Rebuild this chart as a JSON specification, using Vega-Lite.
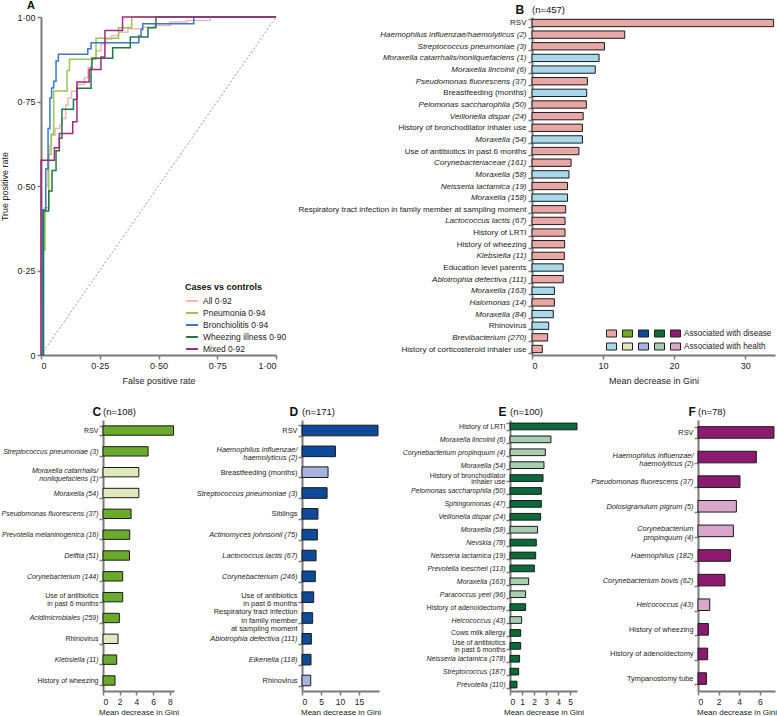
{
  "$schema": "https://vega.github.io/schema/vega-lite/v6.json",
  "padding": 0,
  "config": {
    "font": "Liberation Sans",
    "view": {"stroke": null},
    "axis": {"domainColor": "#7a7a7a", "domainWidth": 2, "tickColor": "#7a7a7a", "tickWidth": 1.5, "tickSize": 4, "labelColor": "#222", "labelFontSize": 8.5, "titleColor": "#222", "titleFontWeight": "normal", "titleFontSize": 9, "grid": false, "labelPadding": 2},
    "title": {"fontSize": 9.5, "fontWeight": "normal", "anchor": "start", "offset": -11, "color": "#111", "frame": "group"},
    "legend": {"labelColor": "#222", "titleColor": "#111"}
  },
  "spacing": 20,
  "resolve": {"scale": {"color": "independent"}, "legend": {"color": "independent"}},
  "vconcat": [
    {
      "spacing": 256,
      "bounds": "flush",
      "resolve": {"scale": {"color": "independent"}, "legend": {"color": "independent"}},
      "hconcat": [
        {
          "width": 235,
          "height": 338,
          "title": {"text": "A", "dx": -14, "offset": 2, "fontSize": 11, "fontWeight": "bold"},
          "layer": [
            {
              "data": {"values": [{"fpr": 0, "tpr": 0}, {"fpr": 1, "tpr": 1}]},
              "mark": {"type": "line", "strokeDash": [2, 2], "color": "#8a9bab", "strokeWidth": 1},
              "encoding": {
                "x": {"field": "fpr", "type": "quantitative", "scale": {"domain": [0, 1], "nice": false}, "axis": {"values": [0, 0.25, 0.5, 0.75, 1], "labelFontSize": 9, "labelExpr": "datum.value == 0 ? '0' : replace(format(datum.value, '.2f'), '.', '·')", "title": "False positive rate", "titlePadding": 6}},
                "y": {"field": "tpr", "type": "quantitative", "scale": {"domain": [0, 1], "nice": false}, "axis": {"values": [0, 0.25, 0.5, 0.75, 1], "labelFontSize": 9, "labelExpr": "datum.value == 0 ? '0' : replace(format(datum.value, '.2f'), '.', '·')", "title": "True positive rate", "titlePadding": 7}}
              }
            },
            {
              "data": {"values": [
                {"series": "All 0·92", "k": 0, "fpr": 0, "tpr": 0},
                {"series": "All 0·92", "k": 1, "fpr": 0.005, "tpr": 0.15},
                {"series": "All 0·92", "k": 2, "fpr": 0.008, "tpr": 0.35},
                {"series": "All 0·92", "k": 3, "fpr": 0.012, "tpr": 0.42},
                {"series": "All 0·92", "k": 4, "fpr": 0.02, "tpr": 0.5},
                {"series": "All 0·92", "k": 5, "fpr": 0.028, "tpr": 0.58},
                {"series": "All 0·92", "k": 6, "fpr": 0.035, "tpr": 0.62},
                {"series": "All 0·92", "k": 7, "fpr": 0.045, "tpr": 0.65},
                {"series": "All 0·92", "k": 8, "fpr": 0.06, "tpr": 0.67},
                {"series": "All 0·92", "k": 9, "fpr": 0.08, "tpr": 0.68},
                {"series": "All 0·92", "k": 10, "fpr": 0.09, "tpr": 0.7},
                {"series": "All 0·92", "k": 11, "fpr": 0.105, "tpr": 0.74},
                {"series": "All 0·92", "k": 12, "fpr": 0.115, "tpr": 0.76},
                {"series": "All 0·92", "k": 13, "fpr": 0.13, "tpr": 0.78},
                {"series": "All 0·92", "k": 14, "fpr": 0.155, "tpr": 0.8},
                {"series": "All 0·92", "k": 15, "fpr": 0.185, "tpr": 0.82},
                {"series": "All 0·92", "k": 16, "fpr": 0.2, "tpr": 0.85},
                {"series": "All 0·92", "k": 17, "fpr": 0.215, "tpr": 0.88},
                {"series": "All 0·92", "k": 18, "fpr": 0.235, "tpr": 0.9},
                {"series": "All 0·92", "k": 19, "fpr": 0.255, "tpr": 0.92},
                {"series": "All 0·92", "k": 20, "fpr": 0.275, "tpr": 0.935},
                {"series": "All 0·92", "k": 21, "fpr": 0.3, "tpr": 0.945},
                {"series": "All 0·92", "k": 22, "fpr": 0.33, "tpr": 0.955},
                {"series": "All 0·92", "k": 23, "fpr": 0.37, "tpr": 0.965},
                {"series": "All 0·92", "k": 24, "fpr": 0.43, "tpr": 0.97},
                {"series": "All 0·92", "k": 25, "fpr": 0.48, "tpr": 0.975},
                {"series": "All 0·92", "k": 26, "fpr": 0.55, "tpr": 0.985},
                {"series": "All 0·92", "k": 27, "fpr": 0.62, "tpr": 0.99},
                {"series": "All 0·92", "k": 28, "fpr": 0.72, "tpr": 1},
                {"series": "All 0·92", "k": 29, "fpr": 1, "tpr": 1},
                {"series": "Pneumonia 0·94", "k": 0, "fpr": 0, "tpr": 0},
                {"series": "Pneumonia 0·94", "k": 1, "fpr": 0.007, "tpr": 0.31},
                {"series": "Pneumonia 0·94", "k": 2, "fpr": 0.017, "tpr": 0.436},
                {"series": "Pneumonia 0·94", "k": 3, "fpr": 0.033, "tpr": 0.594},
                {"series": "Pneumonia 0·94", "k": 4, "fpr": 0.043, "tpr": 0.653},
                {"series": "Pneumonia 0·94", "k": 5, "fpr": 0.054, "tpr": 0.781},
                {"series": "Pneumonia 0·94", "k": 6, "fpr": 0.111, "tpr": 0.842},
                {"series": "Pneumonia 0·94", "k": 7, "fpr": 0.121, "tpr": 0.875},
                {"series": "Pneumonia 0·94", "k": 8, "fpr": 0.234, "tpr": 0.937},
                {"series": "Pneumonia 0·94", "k": 9, "fpr": 0.33, "tpr": 0.968},
                {"series": "Pneumonia 0·94", "k": 10, "fpr": 0.386, "tpr": 1},
                {"series": "Pneumonia 0·94", "k": 11, "fpr": 1, "tpr": 1},
                {"series": "Bronchiolitis 0·94", "k": 0, "fpr": 0, "tpr": 0},
                {"series": "Bronchiolitis 0·94", "k": 1, "fpr": 0.007, "tpr": 0.43},
                {"series": "Bronchiolitis 0·94", "k": 2, "fpr": 0.02, "tpr": 0.55},
                {"series": "Bronchiolitis 0·94", "k": 3, "fpr": 0.03, "tpr": 0.67},
                {"series": "Bronchiolitis 0·94", "k": 4, "fpr": 0.038, "tpr": 0.76},
                {"series": "Bronchiolitis 0·94", "k": 5, "fpr": 0.045, "tpr": 0.79},
                {"series": "Bronchiolitis 0·94", "k": 6, "fpr": 0.054, "tpr": 0.81},
                {"series": "Bronchiolitis 0·94", "k": 7, "fpr": 0.064, "tpr": 0.87},
                {"series": "Bronchiolitis 0·94", "k": 8, "fpr": 0.074, "tpr": 0.89},
                {"series": "Bronchiolitis 0·94", "k": 9, "fpr": 0.199, "tpr": 0.906},
                {"series": "Bronchiolitis 0·94", "k": 10, "fpr": 0.213, "tpr": 0.924},
                {"series": "Bronchiolitis 0·94", "k": 11, "fpr": 0.416, "tpr": 0.944},
                {"series": "Bronchiolitis 0·94", "k": 12, "fpr": 0.426, "tpr": 0.963},
                {"series": "Bronchiolitis 0·94", "k": 13, "fpr": 0.433, "tpr": 0.98},
                {"series": "Bronchiolitis 0·94", "k": 14, "fpr": 0.65, "tpr": 1},
                {"series": "Bronchiolitis 0·94", "k": 15, "fpr": 1, "tpr": 1},
                {"series": "Wheezing illness 0·90", "k": 0, "fpr": 0, "tpr": 0},
                {"series": "Wheezing illness 0·90", "k": 1, "fpr": 0.011, "tpr": 0.426},
                {"series": "Wheezing illness 0·90", "k": 2, "fpr": 0.033, "tpr": 0.485},
                {"series": "Wheezing illness 0·90", "k": 3, "fpr": 0.047, "tpr": 0.546},
                {"series": "Wheezing illness 0·90", "k": 4, "fpr": 0.064, "tpr": 0.604},
                {"series": "Wheezing illness 0·90", "k": 5, "fpr": 0.078, "tpr": 0.641},
                {"series": "Wheezing illness 0·90", "k": 6, "fpr": 0.089, "tpr": 0.727},
                {"series": "Wheezing illness 0·90", "k": 7, "fpr": 0.138, "tpr": 0.756},
                {"series": "Wheezing illness 0·90", "k": 8, "fpr": 0.153, "tpr": 0.789},
                {"series": "Wheezing illness 0·90", "k": 9, "fpr": 0.213, "tpr": 0.85},
                {"series": "Wheezing illness 0·90", "k": 10, "fpr": 0.217, "tpr": 0.878},
                {"series": "Wheezing illness 0·90", "k": 11, "fpr": 0.305, "tpr": 0.909},
                {"series": "Wheezing illness 0·90", "k": 12, "fpr": 0.38, "tpr": 0.941},
                {"series": "Wheezing illness 0·90", "k": 13, "fpr": 0.455, "tpr": 0.968},
                {"series": "Wheezing illness 0·90", "k": 14, "fpr": 0.489, "tpr": 1},
                {"series": "Wheezing illness 0·90", "k": 15, "fpr": 1, "tpr": 1},
                {"series": "Mixed 0·92", "k": 0, "fpr": 0, "tpr": 0},
                {"series": "Mixed 0·92", "k": 1, "fpr": 0, "tpr": 0.576},
                {"series": "Mixed 0·92", "k": 2, "fpr": 0.057, "tpr": 0.613},
                {"series": "Mixed 0·92", "k": 3, "fpr": 0.078, "tpr": 0.655},
                {"series": "Mixed 0·92", "k": 4, "fpr": 0.135, "tpr": 0.69},
                {"series": "Mixed 0·92", "k": 5, "fpr": 0.153, "tpr": 0.808},
                {"series": "Mixed 0·92", "k": 6, "fpr": 0.205, "tpr": 0.845},
                {"series": "Mixed 0·92", "k": 7, "fpr": 0.255, "tpr": 0.882},
                {"series": "Mixed 0·92", "k": 8, "fpr": 0.272, "tpr": 0.96},
                {"series": "Mixed 0·92", "k": 9, "fpr": 0.347, "tpr": 1},
                {"series": "Mixed 0·92", "k": 10, "fpr": 1, "tpr": 1}
              ]},
              "mark": {"type": "line", "interpolate": "step-after", "strokeWidth": 1.5},
              "encoding": {
                "x": {"field": "fpr", "type": "quantitative"},
                "y": {"field": "tpr", "type": "quantitative"},
                "order": {"field": "k", "type": "quantitative"},
                "color": {"field": "series", "type": "nominal",
                  "scale": {"domain": ["All 0·92", "Pneumonia 0·94", "Bronchiolitis 0·94", "Wheezing illness 0·90", "Mixed 0·92"], "range": ["#f2b8b0", "#96c94e", "#3a78c8", "#1e7a45", "#a3287f"]},
                  "legend": {"title": "Cases vs controls", "orient": "none", "legendX": 144, "legendY": 266, "titleFontSize": 9, "titleFontWeight": "bold", "labelFontSize": 8.5, "symbolType": "stroke", "symbolStrokeWidth": 2, "symbolSize": 144, "rowPadding": -1.5, "labelOffset": 4, "padding": 0, "titlePadding": 2}}
              }
            }
          ]
        },
        {
          "width": 243,
          "height": 338,
          "title": {"text": "(n=457)"},
          "data": {"values": [
            {"label": "RSV", "value": 34.0, "assoc": "B-d"},
            {"label": "Haemophilus influenzae/haemolyticus (2)", "value": 13.05, "assoc": "B-d"},
            {"label": "Streptococcus pneumoniae (3)", "value": 10.2, "assoc": "B-d"},
            {"label": "Moraxella catarrhalis/nonliquefaciens (1)", "value": 9.44, "assoc": "B-h"},
            {"label": "Moraxella lincolnii (6)", "value": 8.9, "assoc": "B-h"},
            {"label": "Pseudomonas fluorescens (37)", "value": 7.8, "assoc": "B-d"},
            {"label": "Breastfeeding (months)", "value": 7.7, "assoc": "B-h"},
            {"label": "Pelomonas saccharophila (50)", "value": 7.65, "assoc": "B-d"},
            {"label": "Veillonella dispar (24)", "value": 7.2, "assoc": "B-d"},
            {"label": "History of bronchodilator inhaler use", "value": 7.1, "assoc": "B-d"},
            {"label": "Moraxella (54)", "value": 7.1, "assoc": "B-h"},
            {"label": "Use of antibiotics in past 6 months", "value": 6.6, "assoc": "B-d"},
            {"label": "Corynebacteriaceae (161)", "value": 5.5, "assoc": "B-d"},
            {"label": "Moraxella (58)", "value": 5.2, "assoc": "B-h"},
            {"label": "Neisseria lactamica (19)", "value": 5.0, "assoc": "B-d"},
            {"label": "Moraxella (158)", "value": 5.0, "assoc": "B-h"},
            {"label": "Respiratory tract infection in family member at sampling moment", "value": 4.74, "assoc": "B-d"},
            {"label": "Lactococcus lactis (67)", "value": 4.65, "assoc": "B-d"},
            {"label": "History of LRTI", "value": 4.65, "assoc": "B-d"},
            {"label": "History of wheezing", "value": 4.6, "assoc": "B-d"},
            {"label": "Klebsiella (11)", "value": 4.55, "assoc": "B-d"},
            {"label": "Education level parents", "value": 4.4, "assoc": "B-h"},
            {"label": "Abiotrophia defectiva (111)", "value": 4.4, "assoc": "B-d"},
            {"label": "Moraxella (163)", "value": 3.15, "assoc": "B-h"},
            {"label": "Halomonas (14)", "value": 3.15, "assoc": "B-d"},
            {"label": "Moraxella (84)", "value": 3.0, "assoc": "B-h"},
            {"label": "Rhinovirus", "value": 2.35, "assoc": "B-h"},
            {"label": "Brevibacterium (270)", "value": 2.2, "assoc": "B-d"},
            {"label": "History of corticosteroid inhaler use", "value": 1.45, "assoc": "B-d"}
          ]},
          "mark": {"type": "bar", "stroke": "#1a1a1a", "strokeWidth": 1},
          "encoding": {
            "y": {"field": "label", "type": "nominal", "sort": null, "scale": {"paddingInner": 0.37, "paddingOuter": 0.2},
              "axis": {"title": "B", "titleAngle": 0, "titleX": -17, "titleY": -4, "titleAlign": "left", "titleBaseline": "alphabetic", "titleFontSize": 12, "titleFontWeight": "bold", "titleColor": "#111", "tickBand": "extent", "labelFontSize": 8, "labelLimit": 400, "labelExpr": "split(datum.label, '|')", "labelFontStyle": {"condition": {"test": "test(/\\(\\d+\\)$/, datum.value)", "value": "italic"}, "value": "normal"}}},
            "x": {"field": "value", "type": "quantitative", "scale": {"domain": [0, 34.2], "nice": false},
              "axis": {"values": [0, 10, 20, 30], "title": "Mean decrease in Gini", "titleFontSize": 9, "labelFontSize": 9, "titlePadding": 6}},
            "color": {"field": "assoc", "type": "nominal",
              "scale": {"domain": ["B-d", "B-h", "C-d", "C-h", "D-d", "D-h", "E-d", "E-h", "F-d", "F-h"], "range": ["#e8a6a4", "#a7d8ec", "#6aab2b", "#dfe9bd", "#0d4b9a", "#a6b3dc", "#0b6a3a", "#a5cdb0", "#8c1a6e", "#d8a7cb"]},
              "legend": {"orient": "bottom-right", "columns": 5, "title": null, "labelExpr": "datum.value == 'F-d' ? 'Associated with disease' : datum.value == 'F-h' ? 'Associated with health' : ''", "symbolType": "M-1,-0.7L1,-0.7L1,0.7L-1,0.7Z", "symbolSize": 100, "symbolStrokeColor": "#222", "symbolStrokeWidth": 1, "labelFontSize": 8.2, "columnPadding": 0, "rowPadding": 2, "labelOffset": 3, "offset": 3, "padding": 0}}
          }
        }
      ]
    },
    {
      "spacing": 0,
      "bounds": "flush",
      "resolve": {"scale": {"color": "independent"}, "legend": {"color": "independent"}},
      "hconcat": [
        {"width": 62, "height": 1, "data": {"values": []}, "mark": {"type": "point", "opacity": 0}},
        {
          "width": 71,
          "height": 271,
          "title": {"text": "(n=108)"},
          "data": {"values": [
            {"label": "RSV", "value": 8.45, "assoc": "C-d"},
            {"label": "Streptococcus pneumoniae (3)", "value": 5.4, "assoc": "C-d"},
            {"label": "Moraxella catarrhalis/|nonliquefaciens (1)", "value": 4.29, "assoc": "C-h"},
            {"label": "Moraxella (54)", "value": 4.29, "assoc": "C-h"},
            {"label": "Pseudomonas fluorescens (37)", "value": 3.36, "assoc": "C-d"},
            {"label": "Prevotella melaninogenica (16)", "value": 3.2, "assoc": "C-d"},
            {"label": "Delftia (51)", "value": 3.17, "assoc": "C-d"},
            {"label": "Corynebacterium (144)", "value": 2.36, "assoc": "C-d"},
            {"label": "Use of antibiotics|in past 6 months", "value": 2.36, "assoc": "C-d"},
            {"label": "Acidimicrobiales (259)", "value": 1.96, "assoc": "C-d"},
            {"label": "Rhinovirus", "value": 1.8, "assoc": "C-h"},
            {"label": "Klebsiella (11)", "value": 1.64, "assoc": "C-d"},
            {"label": "History of wheezing", "value": 1.44, "assoc": "C-d"}
          ]},
          "mark": {"type": "bar", "stroke": "#1a1a1a", "strokeWidth": 1},
          "encoding": {
            "y": {"field": "label", "type": "nominal", "sort": null, "scale": {"paddingInner": 0.55, "paddingOuter": 0.28},
              "axis": {"title": "C", "titleAngle": 0, "titleX": -11, "titleY": -5, "titleAlign": "left", "titleBaseline": "alphabetic", "titleFontSize": 12, "titleFontWeight": "bold", "titleColor": "#111", "tickBand": "extent", "labelFontSize": 7, "labelPadding": 1, "labelLimit": 400, "labelLineHeight": 8.5, "labelOffset": {"condition": {"test": "test(/\\|/, datum.value)", "value": -2}, "value": 0}, "labelExpr": "split(datum.label, '|')", "labelFontStyle": {"condition": {"test": "test(/\\(\\d+\\)$/, datum.value)", "value": "italic"}, "value": "normal"}}},
            "x": {"field": "value", "type": "quantitative", "scale": {"domain": [0, 8.5], "nice": false},
              "axis": {"values": [0, 2, 4, 6, 8], "title": "Mean decrease in Gini", "titleFontSize": 8, "titlePadding": 3}},
            "color": {"field": "assoc", "type": "nominal",
              "scale": {"domain": ["B-d", "B-h", "C-d", "C-h", "D-d", "D-h", "E-d", "E-h", "F-d", "F-h"], "range": ["#e8a6a4", "#a7d8ec", "#6aab2b", "#dfe9bd", "#0d4b9a", "#a6b3dc", "#0b6a3a", "#a5cdb0", "#8c1a6e", "#d8a7cb"]},
              "legend": null}
          }
        },
        {"width": 128, "height": 1, "data": {"values": []}, "mark": {"type": "point", "opacity": 0}},
        {
          "width": 77,
          "height": 271,
          "title": {"text": "(n=171)"},
          "data": {"values": [
            {"label": "RSV", "value": 20.0, "assoc": "D-d"},
            {"label": "Haemophilus influenzae/|haemolyticus (2)", "value": 8.8, "assoc": "D-d"},
            {"label": "Breastfeeding (months)", "value": 6.85, "assoc": "D-h"},
            {"label": "Streptococcus pneumoniae (3)", "value": 6.6, "assoc": "D-d"},
            {"label": "Siblings", "value": 4.2, "assoc": "D-d"},
            {"label": "Actinomyces johnsonii (75)", "value": 4.04, "assoc": "D-d"},
            {"label": "Lactococcus lactis (67)", "value": 3.7, "assoc": "D-d"},
            {"label": "Corynebacterium (246)", "value": 3.5, "assoc": "D-d"},
            {"label": "Use of antibiotics|in past 6 months", "value": 3.08, "assoc": "D-d"},
            {"label": "Respiratory tract infection|in family member|at sampling moment", "value": 2.8, "assoc": "D-d"},
            {"label": "Abiotrophia defectiva (111)", "value": 2.46, "assoc": "D-d"},
            {"label": "Eikenella (118)", "value": 2.37, "assoc": "D-d"},
            {"label": "Rhinovirus", "value": 2.3, "assoc": "D-h"}
          ]},
          "mark": {"type": "bar", "stroke": "#1a1a1a", "strokeWidth": 1},
          "encoding": {
            "y": {"field": "label", "type": "nominal", "sort": null, "scale": {"paddingInner": 0.49, "paddingOuter": 0.25},
              "axis": {"title": "D", "titleAngle": 0, "titleX": -13, "titleY": -5, "titleAlign": "left", "titleBaseline": "alphabetic", "titleFontSize": 12, "titleFontWeight": "bold", "titleColor": "#111", "tickBand": "extent", "labelFontSize": 7.4, "labelPadding": 1, "labelLimit": 400, "labelLineHeight": 8.5, "labelOffset": {"condition": [{"test": "test(/\\|.*\\|/, datum.value)", "value": -6}, {"test": "test(/\\|/, datum.value)", "value": -2}], "value": 0}, "labelExpr": "split(datum.label, '|')", "labelFontStyle": {"condition": {"test": "test(/\\(\\d+\\)$/, datum.value)", "value": "italic"}, "value": "normal"}}},
            "x": {"field": "value", "type": "quantitative", "scale": {"domain": [0, 20.26], "nice": false},
              "axis": {"values": [0, 5, 10, 15], "title": "Mean decrease in Gini", "titleFontSize": 8, "titlePadding": 3}},
            "color": {"field": "assoc", "type": "nominal",
              "scale": {"domain": ["B-d", "B-h", "C-d", "C-h", "D-d", "D-h", "E-d", "E-h", "F-d", "F-h"], "range": ["#e8a6a4", "#a7d8ec", "#6aab2b", "#dfe9bd", "#0d4b9a", "#a6b3dc", "#0b6a3a", "#a5cdb0", "#8c1a6e", "#d8a7cb"]},
              "legend": null}
          }
        },
        {"width": 131, "height": 1, "data": {"values": []}, "mark": {"type": "point", "opacity": 0}},
        {
          "width": 67,
          "height": 271,
          "title": {"text": "(n=100)"},
          "data": {"values": [
            {"label": "History of LRTI", "value": 5.58, "assoc": "E-d"},
            {"label": "Moraxella lincolnii (6)", "value": 3.41, "assoc": "E-h"},
            {"label": "Corynebacterium propinquum (4)", "value": 2.94, "assoc": "E-h"},
            {"label": "Moraxella (54)", "value": 2.83, "assoc": "E-h"},
            {"label": "History of bronchodilator|inhaler use", "value": 2.75, "assoc": "E-d"},
            {"label": "Pelomonas saccharophila (50)", "value": 2.61, "assoc": "E-d"},
            {"label": "Sphingomonas (47)", "value": 2.61, "assoc": "E-d"},
            {"label": "Veillonella dispar (24)", "value": 2.55, "assoc": "E-d"},
            {"label": "Moraxella (58)", "value": 2.3, "assoc": "E-h"},
            {"label": "Nevskia (78)", "value": 2.19, "assoc": "E-d"},
            {"label": "Neisseria lactamica (19)", "value": 2.14, "assoc": "E-d"},
            {"label": "Prevotella loescheii (113)", "value": 2.03, "assoc": "E-d"},
            {"label": "Moraxella (163)", "value": 1.55, "assoc": "E-h"},
            {"label": "Paracoccus yeei (96)", "value": 1.3, "assoc": "E-h"},
            {"label": "History of adenoidectomy", "value": 1.3, "assoc": "E-d"},
            {"label": "Helcococcus (43)", "value": 0.97, "assoc": "E-h"},
            {"label": "Cows milk allergy", "value": 0.89, "assoc": "E-d"},
            {"label": "Use of antibiotics|in past 6 months", "value": 0.89, "assoc": "E-d"},
            {"label": "Neisseria lactamica (178)", "value": 0.8, "assoc": "E-d"},
            {"label": "Streptococcus (187)", "value": 0.72, "assoc": "E-d"},
            {"label": "Prevotella (110)", "value": 0.58, "assoc": "E-d"}
          ]},
          "mark": {"type": "bar", "stroke": "#1a1a1a", "strokeWidth": 1},
          "encoding": {
            "y": {"field": "label", "type": "nominal", "sort": null, "scale": {"paddingInner": 0.48, "paddingOuter": 0.24},
              "axis": {"title": "E", "titleAngle": 0, "titleX": -12, "titleY": -5, "titleAlign": "left", "titleBaseline": "alphabetic", "titleFontSize": 12, "titleFontWeight": "bold", "titleColor": "#111", "tickBand": "extent", "labelFontSize": 7, "labelPadding": 1, "labelLimit": 400, "labelLineHeight": 6.8, "labelOffset": {"condition": {"test": "test(/\\|/, datum.value)", "value": -3}, "value": 0}, "labelExpr": "split(datum.label, '|')", "labelFontStyle": {"condition": {"test": "test(/\\(\\d+\\)$/, datum.value)", "value": "italic"}, "value": "normal"}}},
            "x": {"field": "value", "type": "quantitative", "scale": {"domain": [0, 5.58], "nice": false},
              "axis": {"values": [0, 1, 2, 3, 4, 5], "title": "Mean decrease in Gini", "titleFontSize": 8, "titlePadding": 3}},
            "color": {"field": "assoc", "type": "nominal",
              "scale": {"domain": ["B-d", "B-h", "C-d", "C-h", "D-d", "D-h", "E-d", "E-h", "F-d", "F-h"], "range": ["#e8a6a4", "#a7d8ec", "#6aab2b", "#dfe9bd", "#0d4b9a", "#a6b3dc", "#0b6a3a", "#a5cdb0", "#8c1a6e", "#d8a7cb"]},
              "legend": null}
          }
        },
        {"width": 121, "height": 1, "data": {"values": []}, "mark": {"type": "point", "opacity": 0}},
        {
          "width": 77,
          "height": 271,
          "title": {"text": "(n=78)"},
          "data": {"values": [
            {"label": "RSV", "value": 7.38, "assoc": "F-d"},
            {"label": "Haemophilus influenzae/|haemolyticus (2)", "value": 5.67, "assoc": "F-d"},
            {"label": "Pseudomonas fluorescens (37)", "value": 4.08, "assoc": "F-d"},
            {"label": "Dolosigranulum pigrum (5)", "value": 3.73, "assoc": "F-h"},
            {"label": "Corynebacterium|propinquum (4)", "value": 3.44, "assoc": "F-h"},
            {"label": "Haemophilus (182)", "value": 3.15, "assoc": "F-d"},
            {"label": "Corynebacterium bovis (62)", "value": 2.62, "assoc": "F-d"},
            {"label": "Helcococcus (43)", "value": 1.14, "assoc": "F-h"},
            {"label": "History of wheezing", "value": 1.01, "assoc": "F-d"},
            {"label": "History of adenoidectomy", "value": 0.94, "assoc": "F-d"},
            {"label": "Tympanostomy tube", "value": 0.82, "assoc": "F-d"}
          ]},
          "mark": {"type": "bar", "stroke": "#1a1a1a", "strokeWidth": 1},
          "encoding": {
            "y": {"field": "label", "type": "nominal", "sort": null, "scale": {"paddingInner": 0.53, "paddingOuter": 0.27},
              "axis": {"title": "F", "titleAngle": 0, "titleX": -10, "titleY": -5, "titleAlign": "left", "titleBaseline": "alphabetic", "titleFontSize": 12, "titleFontWeight": "bold", "titleColor": "#111", "tickBand": "extent", "labelFontSize": 7.4, "labelPadding": 1, "labelLimit": 400, "labelLineHeight": 8.5, "labelOffset": {"condition": {"test": "test(/\\|/, datum.value)", "value": -2}, "value": 0}, "labelExpr": "split(datum.label, '|')", "labelFontStyle": {"condition": {"test": "test(/\\(\\d+\\)$/, datum.value)", "value": "italic"}, "value": "normal"}}},
            "x": {"field": "value", "type": "quantitative", "scale": {"domain": [0, 7.48], "nice": false},
              "axis": {"values": [0, 2, 4, 6], "title": "Mean decrease in Gini", "titleFontSize": 8, "titlePadding": 3}},
            "color": {"field": "assoc", "type": "nominal",
              "scale": {"domain": ["B-d", "B-h", "C-d", "C-h", "D-d", "D-h", "E-d", "E-h", "F-d", "F-h"], "range": ["#e8a6a4", "#a7d8ec", "#6aab2b", "#dfe9bd", "#0d4b9a", "#a6b3dc", "#0b6a3a", "#a5cdb0", "#8c1a6e", "#d8a7cb"]},
              "legend": null}
          }
        }
      ]
    }
  ]
}
